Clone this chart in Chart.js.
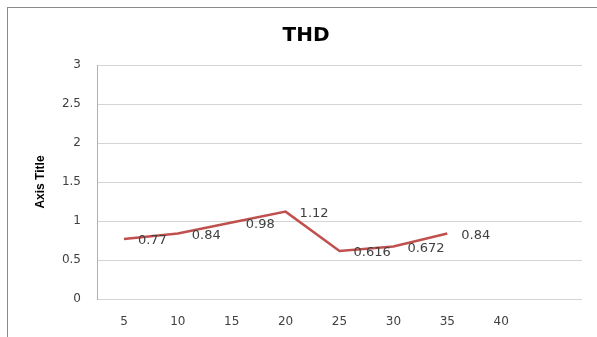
<!DOCTYPE html>
<html>
<head>
<meta charset="utf-8">
<title>THD</title>
<script src="https://cdn.jsdelivr.net/npm/chart.js@4/dist/chart.umd.min.js"></script>
<style>
  html, body { margin: 0; padding: 0; background: #ffffff; }
  #wrap { width: 597px; height: 337px; }
</style>
</head>
<body>
<div id="wrap"><canvas id="thd" width="597" height="337"></canvas></div>
<script>
// Harmonic distortion readings per step
const categories = ['5', '10', '15', '20', '25', '30', '35', '40', ''];
const thdValues = [0.77, 0.84, 0.98, 1.12, 0.616, 0.672, 0.84, null, null];
const yTicks = [0, 0.5, 1, 1.5, 2, 2.5, 3];

const textColor = '#404040';
const gridColor = '#d4d4d4';

// Frame around the whole chart
const framePlugin = {
  id: 'frame',
  beforeDraw(chart) {
    const ctx = chart.ctx;
    ctx.save();
    ctx.fillStyle = '#ffffff';
    ctx.fillRect(0, 0, chart.width, chart.height);
    ctx.strokeStyle = '#8a8a8a';
    ctx.lineWidth = 1;
    ctx.strokeRect(7.5, 7.5, chart.width + 10, chart.height + 10);
    ctx.restore();
  }
};

// Value labels to the right of each point
const valueLabels = {
  id: 'valueLabels',
  afterDatasetsDraw(chart) {
    const ctx = chart.ctx;
    const meta = chart.getDatasetMeta(0);
    ctx.save();
    ctx.font = '13px "DejaVu Sans"';
    ctx.fillStyle = textColor;
    ctx.textAlign = 'left';
    ctx.textBaseline = 'middle';
    meta.data.forEach((pt, i) => {
      const v = chart.data.datasets[0].data[i];
      if (v === null || v === undefined) return;
      ctx.fillText(String(v), pt.x + 14, pt.y + 2);
    });
    ctx.restore();
  }
};

new Chart(document.getElementById('thd'), {
  type: 'line',
  data: {
    labels: categories,
    datasets: [{
      label: 'THD',
      data: thdValues,
      borderColor: '#c0504d',
      borderWidth: 2.5,
      pointRadius: 0,
      tension: 0,
      fill: false,
      spanGaps: false
    }]
  },
  options: {
    responsive: false,
    animation: false,
    devicePixelRatio: 1,
    layout: { padding: { left: 30, right: 15, top: 10, bottom: 0 } },
    plugins: {
      legend: { display: false },
      tooltip: { enabled: false },
      title: {
        display: true,
        text: 'THD',
        color: '#000000',
        font: { family: '"DejaVu Sans"', size: 20, weight: 'bold' },
        padding: { top: 14, bottom: 17 }
      }
    },
    scales: {
      x: {
        type: 'category',
        offset: true,
        grid: { display: false, drawTicks: false },
        border: { display: false },
        ticks: {
          color: textColor,
          font: { family: '"DejaVu Sans"', size: 12 },
          padding: 16,
          maxRotation: 0,
          autoSkip: false
        },
        afterFit(scale) { scale.height = 38; }
      },
      y: {
        min: 0,
        max: 3,
        afterBuildTicks(scale) { scale.ticks = yTicks.map(v => ({ value: v })); },
        grid: { color: gridColor, lineWidth: 1, drawTicks: false },
        border: { display: true, color: '#b0b0b0', width: 1 },
        ticks: {
          color: textColor,
          font: { family: '"DejaVu Sans"', size: 12 },
          padding: 16,
          callback: (value) => String(value)
        },
        title: {
          display: true,
          text: 'Axis Title',
          color: '#000000',
          font: { family: '"Liberation Sans"', size: 12, weight: 'bold' },
          padding: { top: 3, bottom: 0 }
        },
        afterFit(scale) { scale.width = 67; }
      }
    }
  },
  plugins: [framePlugin, valueLabels]
});
</script>
</body>
</html>
